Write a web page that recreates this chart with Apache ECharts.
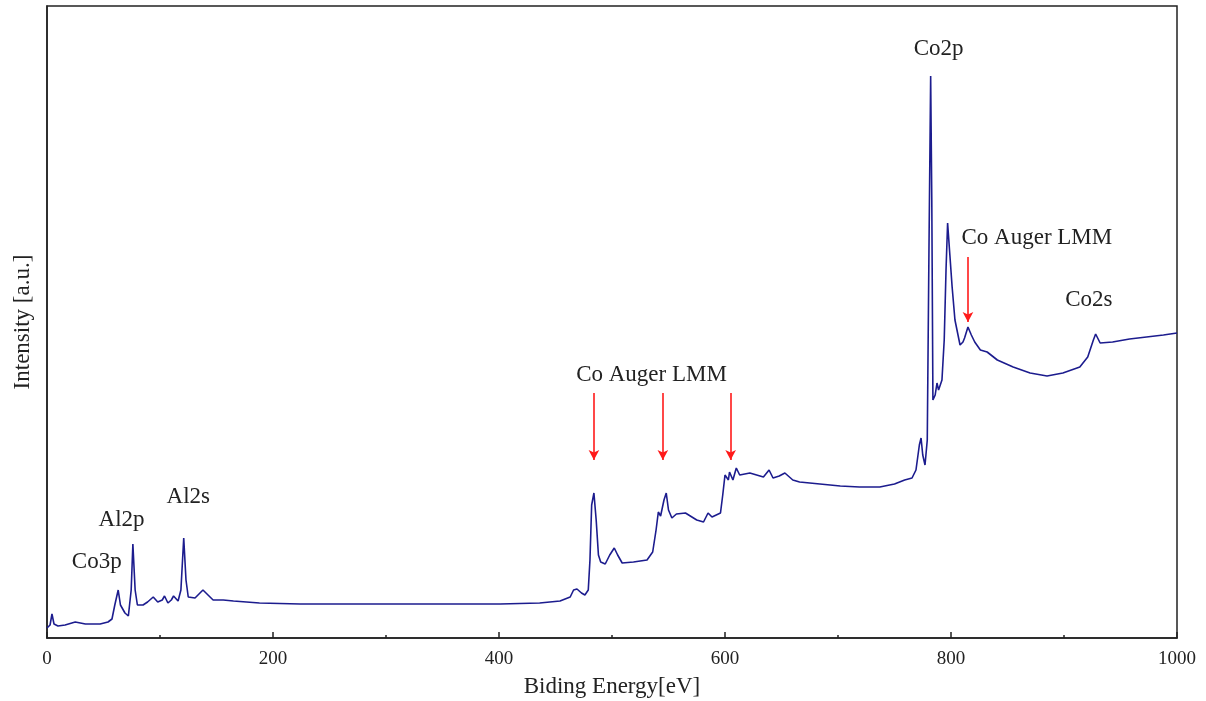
<!DOCTYPE html>
<html>
<head>
  <meta charset="utf-8">
  <title>XPS survey</title>
  <script src="https://cdn.jsdelivr.net/npm/echarts@6/dist/echarts.min.js"></script>
  <style>
    html, body { margin: 0; padding: 0; background: #fff; }
    #chart { width: 1206px; height: 701px; }
  </style>
</head>
<body>
  <div id="chart"></div>
  <script>
    // binding energy (eV) and intensity (a.u.)
    let energy = [0, 2.7, 4.4, 6.2, 9.7, 16, 25, 34, 47, 54, 57.5, 60, 63, 65, 69, 72, 74.5, 76, 78, 80,
      85, 89, 94, 98, 102, 104, 107, 110, 112, 116, 118.5, 121, 123, 125, 131, 138, 142.5, 147, 156, 165,
      188, 224, 312, 401, 436, 454, 463, 466, 469, 473, 476, 479, 480.5, 482, 484, 486, 488, 490, 494, 498,
      502, 505, 509, 519, 531, 536, 539, 541, 543, 544, 546, 548, 550, 553, 557, 565, 575, 581, 585, 588.5,
      596, 598, 600, 603, 604, 607, 610, 613, 622, 628, 634, 639, 642.5, 648, 653, 660, 666, 684, 702, 719,
      737, 750, 759, 765.5, 769, 772, 773.5, 775, 777, 779, 780.5, 782, 783, 784, 786, 787.6, 789, 792, 794, 795.6,
      797, 799, 801, 803.5, 808, 810.6, 812, 815, 818, 821, 826, 832, 841, 855, 870, 885, 899, 914, 921, 926,
      928, 932, 943, 958, 973, 988, 1000];
    let intensity = [10, 13, 24, 14, 12, 13, 16, 14, 14, 16, 19, 33, 48, 33, 25, 22, 48, 94, 48, 33,
      33, 36, 41, 36, 38, 42, 35, 38, 42, 37, 48, 100, 58, 41, 40, 48, 43, 38, 38, 37,
      35, 34, 34, 34, 35, 37, 41, 48, 49, 45, 43, 48, 78, 133, 145, 118, 83, 76, 74, 83,
      90, 83, 75, 76, 78, 86, 108, 126, 122, 120, 138, 145, 128, 120, 124, 125, 118, 116, 125, 121,
      125, 143, 163, 158, 166, 158, 170, 163, 165, 163, 161, 168, 160, 162, 165, 158, 156, 154, 152, 151,
      151, 154, 158, 160, 168, 193, 200, 183, 173, 198, 388, 562, 438, 238, 243, 255, 248, 258, 298, 368,
      415, 383, 351, 318, 293, 296, 300, 311, 303, 296, 288, 286, 278, 271, 265, 262, 265, 271, 281, 298,
      304, 295, 296, 299, 301, 303, 305];

    // peak labels: [energy, intensity, text]
    let labelX = [44, 66, 125, 535, 789, 876, 922];
    let labelY = [76, 118, 141, 263, 589, 400, 338];
    let labelText = ['Co3p', 'Al2p', 'Al2s', 'Co Auger LMM', 'Co2p', 'Co Auger LMM', 'Co2s'];

    // red arrows: x position, top and tip intensity
    let arrowX = [484, 545, 605, 815];
    let arrowTop = [245, 245, 245, 381];
    let arrowTip = [178, 178, 178, 316];

    let serif = '"Liberation Serif", "DejaVu Serif", serif';

    let lineData = energy.map(function (e, i) { return [e, intensity[i]]; });
    let pointData = labelX.map(function (x, i) {
      return { coord: [x, labelY[i]], value: labelText[i] };
    });
    let arrowData = arrowX.map(function (x, i) {
      return [{ coord: [x, arrowTop[i]] }, { coord: [x, arrowTip[i]] }];
    });

    let myChart = echarts.init(document.getElementById('chart'));
    let option = {
      animation: false,
      grid: {
        left: 47, right: 29, top: 6, bottom: 63,
        containLabel: false,
        outerBoundsMode: 'none',
        show: true, borderColor: '#222', borderWidth: 1.5
      },
      xAxis: {
        type: 'value',
        min: 0, max: 1000, interval: 200,
        name: 'Biding Energy[eV]',
        nameLocation: 'middle',
        nameGap: 37,
        nameTextStyle: { fontFamily: serif, fontSize: 23, color: '#222' },
        axisLine: { lineStyle: { color: '#222', width: 1.5 } },
        axisTick: { inside: true, length: 6, lineStyle: { color: '#222', width: 1.5 } },
        minorTick: { show: true, splitNumber: 2, length: 3, lineStyle: { color: '#222', width: 1.5 } },
        axisLabel: {
          fontFamily: serif, fontSize: 19, color: '#222', margin: 12,
          formatter: function (v) { return String(v); }
        },
        splitLine: { show: false }
      },
      yAxis: {
        type: 'value',
        min: 0, max: 632,
        name: 'Intensity [a.u.]',
        nameLocation: 'middle',
        nameGap: 13,
        nameTextStyle: { fontFamily: serif, fontSize: 23, color: '#222' },
        axisLine: { show: true, lineStyle: { color: '#222', width: 1.5 } },
        axisTick: { show: false },
        axisLabel: { show: false },
        splitLine: { show: false }
      },
      series: [
        {
          type: 'line',
          data: lineData,
          showSymbol: false,
          lineStyle: { color: '#1c1c8e', width: 1.6 },
          markPoint: {
            silent: true,
            symbol: 'circle',
            symbolSize: 1,
            itemStyle: { color: 'rgba(0,0,0,0)' },
            label: {
              show: true,
              position: 'inside',
              fontFamily: serif,
              fontSize: 23,
              color: '#222',
              formatter: function (p) { return p.value; }
            },
            data: pointData
          },
          markLine: {
            silent: true,
            symbol: ['none', 'arrow'],
            symbolSize: [8, 10],
            label: { show: false },
            lineStyle: { color: '#ff1a1a', width: 1.6, type: 'solid' },
            data: arrowData
          }
        }
      ]
    };
    myChart.setOption(option);
  </script>
</body>
</html>
